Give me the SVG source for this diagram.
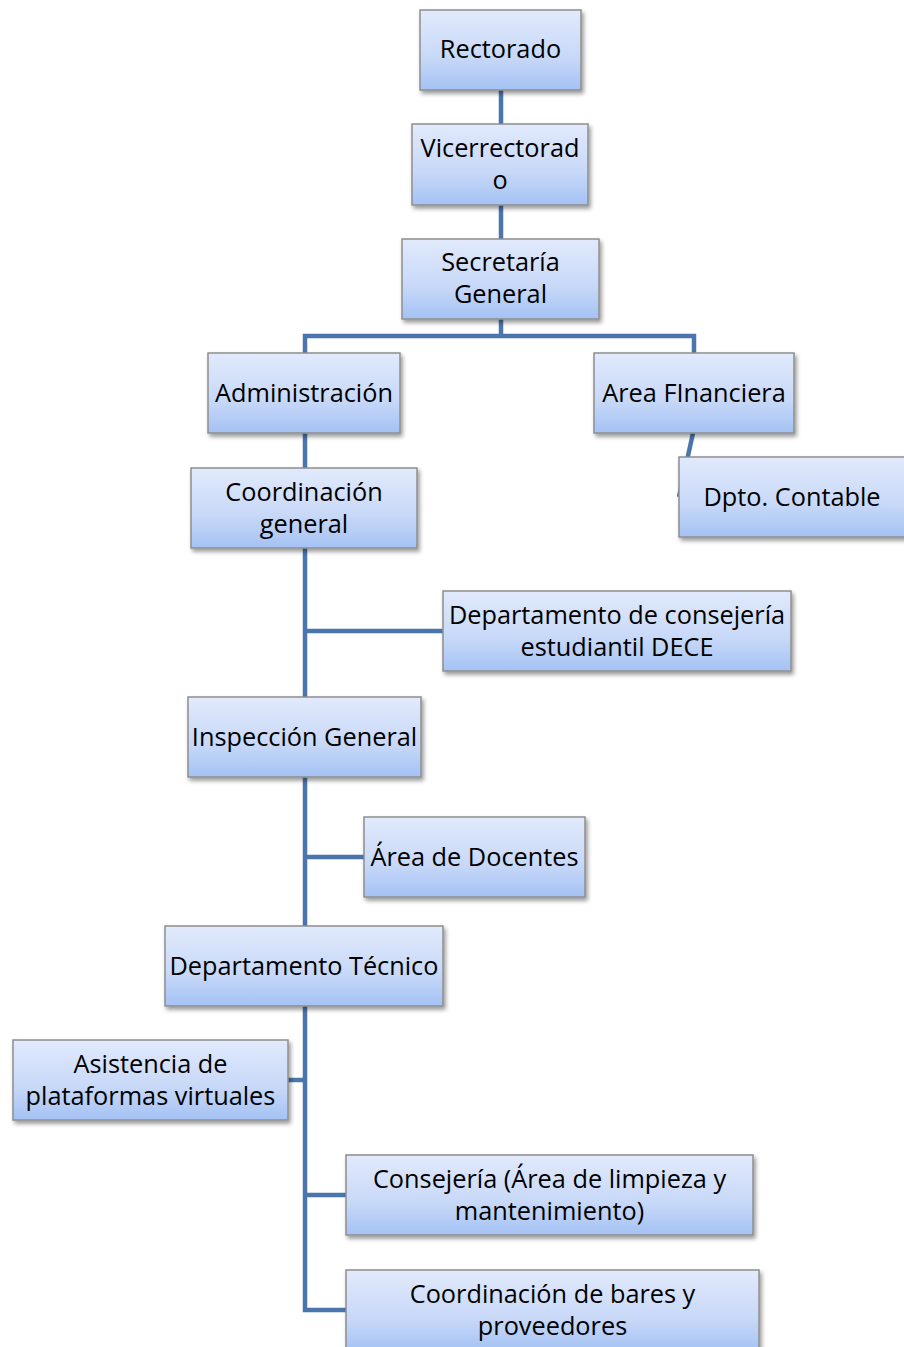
<svg xmlns="http://www.w3.org/2000/svg" width="904" height="1347" viewBox="0 0 904 1347">
<style>
.box{fill:url(#g);stroke:#8e8e8e;stroke-width:1.5;filter:url(#sh)}
.t{font-family:"Open Sans","Liberation Sans",sans-serif;font-size:25.3px;fill:#000;text-anchor:middle}
.c{fill:none;stroke:#4a76ad;stroke-width:4.5}
</style>
<defs>
<linearGradient id="g" x1="0" y1="0" x2="0" y2="1">
<stop offset="0" stop-color="#e2eafc"/>
<stop offset="0.6" stop-color="#c7d8f8"/>
<stop offset="1" stop-color="#a4c2f4"/>
</linearGradient>
<filter id="sh" x="-10%" y="-10%" width="120%" height="130%">
<feDropShadow dx="2" dy="3" stdDeviation="2" flood-color="#000" flood-opacity="0.4"/>
</filter>
</defs>
<g id="connectors">
<path class="c" d="M501 90V124M501 205V239M501 319V336M305 353V336H694V353"/>
<path class="c" d="M693 433L679 497"/>
<path class="c" d="M305 433V468M305 548V697M305 631H443"/>
<path class="c" d="M305 777V926M305 857H364"/>
<path class="c" d="M305 1006V1310H346M305 1080H288M305 1195H346"/>
</g>
<g id="n1"><rect class="box" x="420" y="10" width="161" height="80"/><text class="t" x="500.5" y="58">Rectorado</text></g>
<g id="n2"><rect class="box" x="412" y="124" width="176" height="81"/><text class="t" x="500" y="157">Vicerrectorad</text><text class="t" x="500" y="189">o</text></g>
<g id="n3"><rect class="box" x="402" y="239" width="197" height="80"/><text class="t" x="500.5" y="271">Secretaría</text><text class="t" x="500.5" y="303">General</text></g>
<g id="n4"><rect class="box" x="208" y="353" width="192" height="80"/><text class="t" x="304" y="402">Administración</text></g>
<g id="n5"><rect class="box" x="594" y="353" width="200" height="80"/><text class="t" x="694" y="402">Area FInanciera</text></g>
<g id="n6"><rect class="box" x="679" y="457" width="230" height="80"/><text class="t" x="792" y="506">Dpto. Contable</text></g>
<g id="n7"><rect class="box" x="191" y="468" width="226" height="80"/><text class="t" x="304" y="501">Coordinación</text><text class="t" x="304" y="533">general</text></g>
<g id="n8"><rect class="box" x="443" y="591" width="348" height="80"/><text class="t" x="617" y="624">Departamento de consejería</text><text class="t" x="617" y="656">estudiantil DECE</text></g>
<g id="n9"><rect class="box" x="188" y="697" width="233" height="80"/><text class="t" x="304.5" y="746">Inspección General</text></g>
<g id="n10"><rect class="box" x="364" y="817" width="221" height="80"/><text class="t" x="474.5" y="866">Área de Docentes</text></g>
<g id="n11"><rect class="box" x="165" y="926" width="278" height="80"/><text class="t" x="304" y="975">Departamento Técnico</text></g>
<g id="n12"><rect class="box" x="13" y="1040" width="275" height="80"/><text class="t" x="150.5" y="1073">Asistencia de</text><text class="t" x="150.5" y="1105">plataformas virtuales</text></g>
<g id="n13"><rect class="box" x="346" y="1155" width="407" height="80"/><text class="t" x="549.5" y="1188">Consejería (Área de limpieza y</text><text class="t" x="549.5" y="1220">mantenimiento)</text></g>
<g id="n14"><rect class="box" x="346" y="1270" width="413" height="82"/><text class="t" x="552.5" y="1303">Coordinación de bares y</text><text class="t" x="552.5" y="1335">proveedores</text></g>
</svg>
